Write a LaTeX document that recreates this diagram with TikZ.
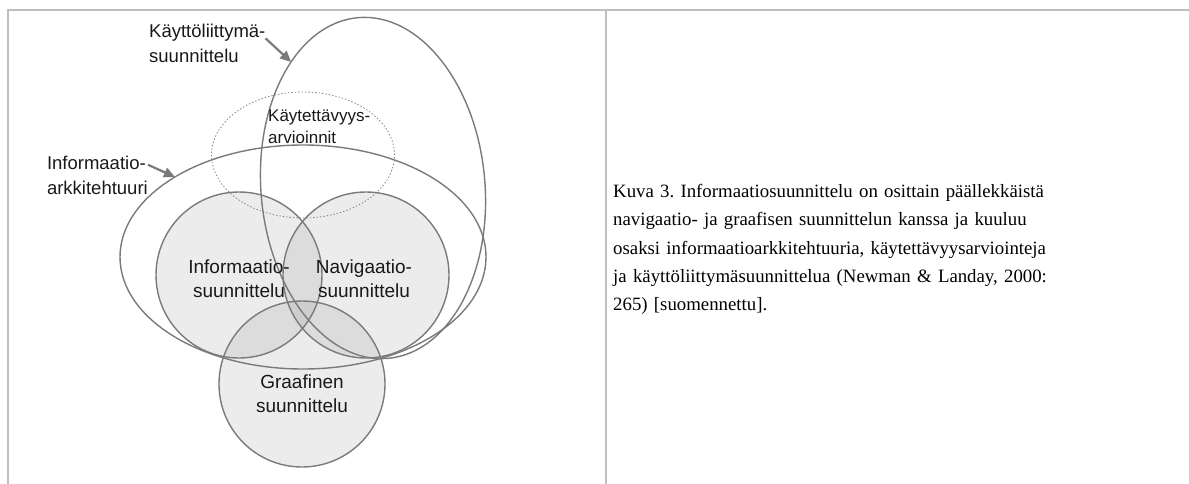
\documentclass[tikz,border=0pt]{standalone}
\usepackage{fontspec}
\setmainfont{Liberation Serif}
\newfontfamily\arialf{Liberation Sans}
\usetikzlibrary{arrows.meta,shapes.geometric}
\tikzset{
>={Triangle[length=11pt,width=10pt]},
rand/.style={draw=black!25,line width=2pt},
kehys/.style={ellipse,draw=black!52,line width=1.4pt,outer sep=0pt,inner sep=0pt},
ympyra/.style={kehys,fill=gray,fill opacity=0.15,minimum size=166pt},
teksti/.style={font=\arialf\fontsize{18.5}{25}\selectfont,align=left,inner sep=0pt,text=black!90},
nuoli/.style={->,draw=black!52,fill=black!52,line width=2.2pt}}
\frenchspacing

\begin{document}
\begin{tikzpicture}[x=1pt,y=-1pt]
\useasboundingbox (0,0) rectangle (1189,484);

% taulukon reunat
\draw[rand] (8,484) -- (8,10) -- (1189,10);
\draw[rand] (606,10) -- (606,484);

% joukot
\node[kehys,dotted,draw=black!50,line width=0.8pt,minimum width=183pt,minimum height=126pt] (ka) at (303,155) {};
\node[ympyra] (is) at (239,275) {};
\node[ympyra] (ns) at (366,275) {};
\node[ympyra] (gs) at (302,384) {};
\node[kehys,minimum width=366pt,minimum height=224pt] (ia) at (303,257) {};
\node[kehys,minimum width=224pt,minimum height=342pt,rotate=5] (kl) at (373,188) {};

% tekstit
\node[teksti,anchor=north west] (kllbl) at (149,24) {Käyttöliittymä-\\suunnittelu};
\node[teksti,anchor=north east] (ialbl) at (148,156) {Informaatio-\\arkkitehtuuri};
\node[teksti,anchor=north west,font=\arialf\fontsize{17}{22}\selectfont] (kalbl) at (268,110) {Käytettävyys-\\arvioinnit};
\node[teksti,align=center,font=\arialf\fontsize{19}{24}\selectfont] (islbl) at (239,279) {Informaatio-\\suunnittelu};
\node[teksti,align=center,font=\arialf\fontsize{19}{24}\selectfont] (nslbl) at (364,279) {Navigaatio-\\suunnittelu};
\node[teksti,align=center,font=\arialf\fontsize{19}{24}\selectfont] (gslbl) at (302,394) {Graafinen\\suunnittelu};

% nuolet
\draw[nuoli] (kllbl.5) -- (kl.118);
\draw[nuoli] (ialbl.12) -- (ia.148);

% kuvateksti
\node[anchor=north west,text width=570pt,align=left,inner sep=0pt,font=\fontsize{18.8}{28.3}\selectfont] (kuvateksti) at (613,184)
{Kuva 3. Informaatiosuunnittelu on osittain päällekkäistä\\
navigaatio- ja graafisen suunnittelun kanssa ja kuuluu\\
osaksi informaatioarkkitehtuuria, käytettävyysarviointeja\\
ja käyttöliittymäsuunnittelua (Newman \& Landay, 2000:\\
265) [suomennettu].};
\end{tikzpicture}
\end{document}
